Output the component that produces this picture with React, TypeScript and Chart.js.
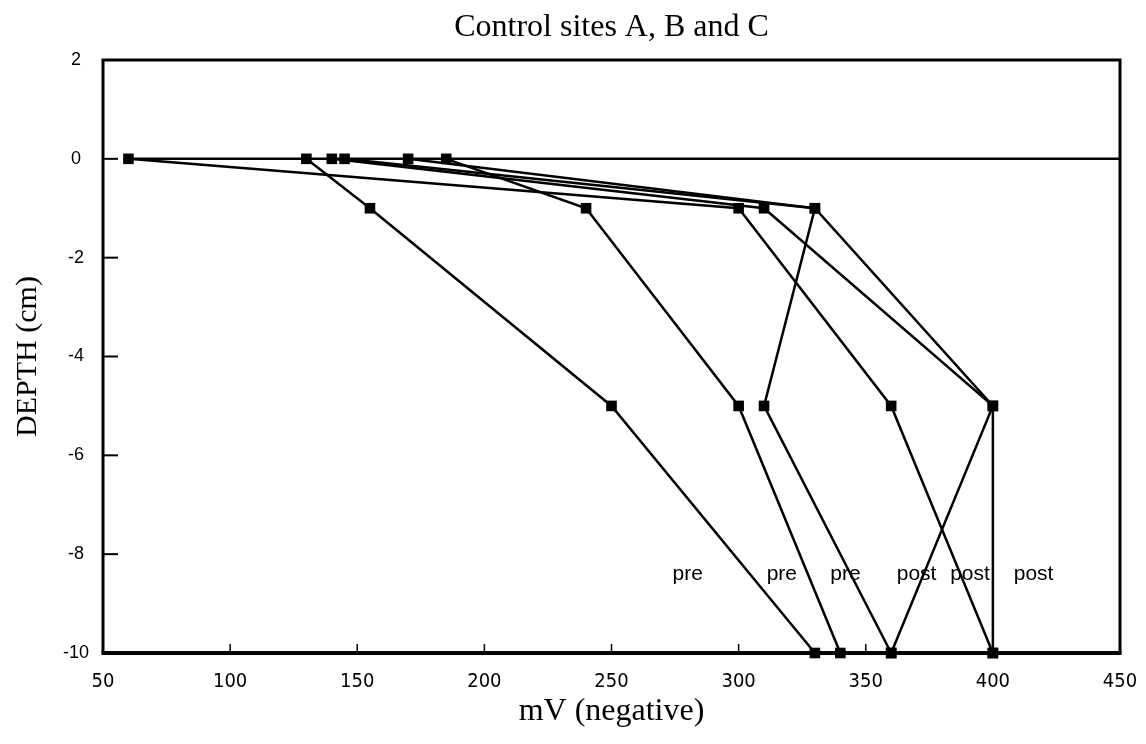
import React, { useEffect, useRef } from "react";
import { Chart, registerables } from "chart.js";

Chart.register(...registerables);

// ---- data ----
const depthLevels = [0, -1, -5, -10];
const seriesNames = ["pre 1", "pre 2", "pre 3", "post 1", "post 2", "post 3"];
const pre1 = [130, 155, 250, 330];
const pre2 = [185, 240, 300, 340];
const pre3 = [170, 330, 310, 360];
const post1 = [60, 300, 360, 400];
const post2 = [140, 310, 400, 360];
const post3 = [145, 330, 400, 400];
const surfaceMV = [60, 450];
const surfaceDepth = [0, 0];
const xTickValues = [50, 100, 150, 200, 250, 300, 350, 400, 450];
const yTickValues = [2, 0, -2, -4, -6, -8, -10];
const innerXTicks = [100, 150, 200, 250, 300, 350, 400];
const innerYTicks = [0, -2, -4, -6, -8];
const noteTexts = ["pre", "pre", "pre", "post", "post", "post"];
const noteMV = [280, 317, 342, 370, 391, 416];
const noteDepth = [-8.4, -8.4, -8.4, -8.4, -8.4, -8.4];

const W = 1146;
const H = 744;

const decorPlugin = {
  id: "decor",
  afterDraw(chart: any) {
    const { ctx, chartArea: a, scales } = chart;
    const xs = scales.x;
    const ys = scales.y;
    ctx.save();
    ctx.strokeStyle = "#000";
    // frame
    ctx.lineWidth = 3;
    ctx.beginPath();
    ctx.moveTo(a.left, a.bottom);
    ctx.lineTo(a.left, a.top);
    ctx.lineTo(a.right, a.top);
    ctx.lineTo(a.right, a.bottom);
    ctx.stroke();
    ctx.lineWidth = 4;
    ctx.beginPath();
    ctx.moveTo(a.left - 1.5, a.bottom);
    ctx.lineTo(a.right + 1.5, a.bottom);
    ctx.stroke();
    // inner ticks
    ctx.lineWidth = 2;
    innerYTicks.forEach((v) => {
      const y = ys.getPixelForValue(v);
      ctx.beginPath();
      ctx.moveTo(a.left, y);
      ctx.lineTo(a.left + 15, y);
      ctx.stroke();
    });
    ctx.lineWidth = 1.5;
    innerXTicks.forEach((v) => {
      const x = xs.getPixelForValue(v);
      ctx.beginPath();
      ctx.moveTo(x, a.bottom - 2);
      ctx.lineTo(x, a.bottom - 9);
      ctx.stroke();
    });
    // notes
    ctx.fillStyle = "#000";
    ctx.font = "21px 'Liberation Sans', Arial, sans-serif";
    ctx.textAlign = "center";
    ctx.textBaseline = "middle";
    noteTexts.forEach((t, i) => {
      ctx.fillText(t, xs.getPixelForValue(noteMV[i]), ys.getPixelForValue(noteDepth[i]));
    });
    ctx.restore();
  },
};

const profiles = [pre1, pre2, pre3, post1, post2, post3];

export default function App() {
  const ref = useRef<HTMLCanvasElement | null>(null);

  useEffect(() => {
    if (!ref.current) return;
    const datasets: any[] = profiles.map((vals, i) => ({
      label: seriesNames[i],
      data: vals.map((v, j) => ({ x: v, y: depthLevels[j] })),
      showLine: true,
      borderColor: "#000",
      borderWidth: 2.5,
      backgroundColor: "#000",
      pointStyle: "rect",
      pointRadius: 7.5,
      pointBorderWidth: 0,
      pointBackgroundColor: "#000",
      clip: false,
    }));
    datasets.push({
      label: "surface",
      data: surfaceMV.map((v, j) => ({ x: v, y: surfaceDepth[j] })),
      showLine: true,
      borderColor: "#000",
      borderWidth: 2.5,
      pointRadius: 0,
      clip: false,
    });

    const chart = new Chart(ref.current, {
      type: "scatter",
      data: { datasets },
      options: {
        responsive: false,
        animation: false,
        layout: { padding: { left: 0, right: W - 1120, top: 0, bottom: 0 } },
        plugins: {
          legend: { display: false },
          tooltip: { enabled: false },
          title: {
            display: true,
            text: "Control sites A, B and C",
            fullSize: false,
            color: "#000",
            font: { family: "'Liberation Serif', 'Times New Roman', serif", size: 32, weight: "normal", lineHeight: 1.2 },
            padding: { top: 8, bottom: 13.6 },
          },
        },
        scales: {
          x: {
            type: "linear",
            min: 50,
            max: 450,
            afterFit: (s: any) => {
              s.height = H - 653;
              s.paddingLeft = 0;
              s.paddingRight = 0;
            },
            afterBuildTicks: (s: any) => {
              s.ticks = xTickValues.map((v) => ({ value: v }));
            },
            grid: { display: false, drawTicks: false },
            border: { display: false },
            ticks: {
              color: "#000",
              padding: 17,
              maxRotation: 0,
              autoSkip: false,
              font: { family: "'Liberation Sans Narrow', 'DejaVu Sans Condensed', 'Liberation Sans', sans-serif", size: 20 },
            },
            title: {
              display: true,
              text: "mV (negative)",
              color: "#000",
              font: { family: "'Liberation Serif', 'Times New Roman', serif", size: 32, lineHeight: 1.2 },
              padding: { top: 0, bottom: 12.8 },
            },
          },
          y: {
            type: "linear",
            min: -10,
            max: 2,
            afterFit: (s: any) => {
              s.width = 103;
              s.paddingTop = 0;
              s.paddingBottom = 0;
            },
            afterBuildTicks: (s: any) => {
              s.ticks = yTickValues.map((v) => ({ value: v }));
            },
            grid: { display: false, drawTicks: false },
            border: { display: false },
            ticks: {
              color: "#000",
              padding: 14,
              crossAlign: "center",
              autoSkip: false,
              font: { family: "'Liberation Sans', Arial, sans-serif", size: 18 },
            },
            title: {
              display: true,
              text: "DEPTH (cm)",
              color: "#000",
              font: { family: "'Liberation Serif', 'Times New Roman', serif", size: 30, lineHeight: 1.2 },
              padding: { top: 10, bottom: 0 },
            },
          },
        },
      } as any,
      plugins: [decorPlugin],
    });
    return () => chart.destroy();
  }, []);

  return (
    <div style={{ position: "absolute", left: 0, top: 0, width: W, height: H, background: "#fff" }}>
      <canvas ref={ref} width={W} height={H} style={{ display: "block" }} />
    </div>
  );
}
